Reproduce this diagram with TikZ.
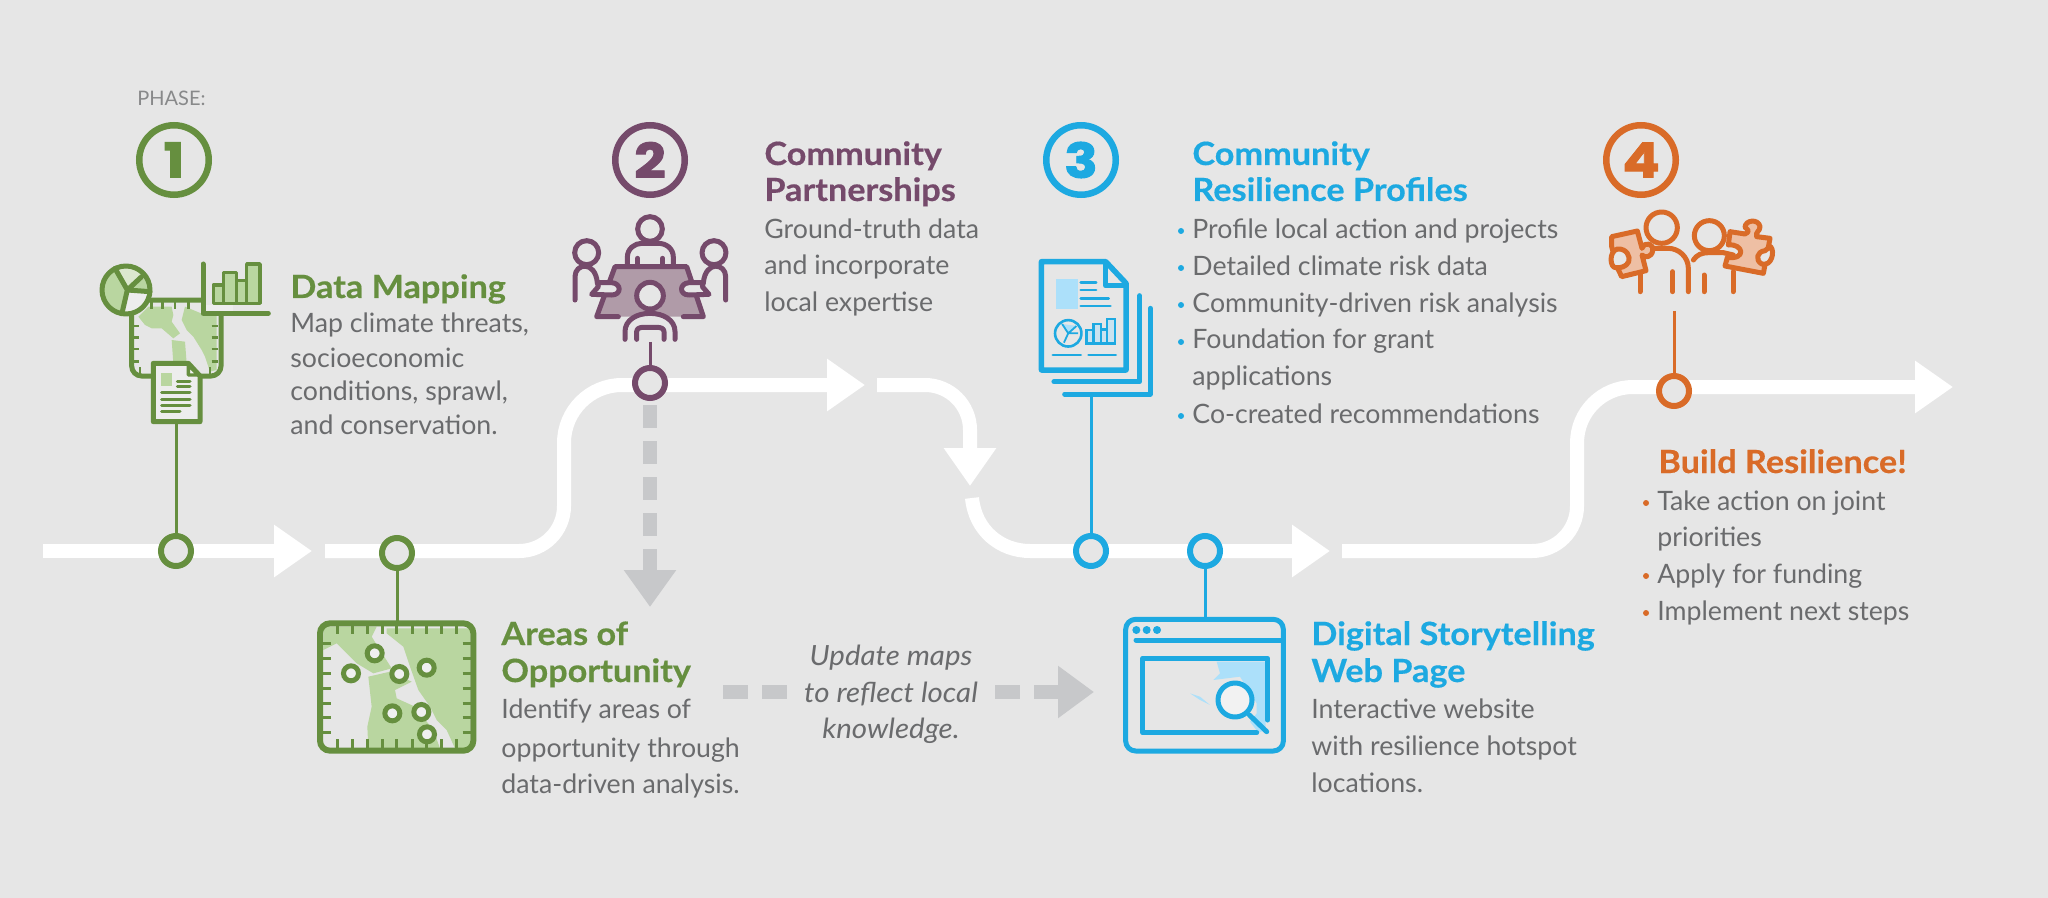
\documentclass[tikz,border=0pt]{standalone}
\usepackage{fontspec}
\setmainfont{Lato}
\newfontfamily\numfont{Poppins}[FakeStretch=1.15,BoldFeatures={FakeBold=2}]
\newfontfamily\headfont{Lato}[FakeStretch=1.07,BoldFeatures={FakeBold=0.4}]
\newfontfamily\italfont{Lato}[FakeStretch=1.06]
\usetikzlibrary{arrows.meta}
\definecolor{bgc}{HTML}{E6E6E6}
\definecolor{grn}{HTML}{668F3F}
\definecolor{grnl}{HTML}{B9D6A0}
\definecolor{grnp}{HTML}{DCE8CF}
\definecolor{pur}{HTML}{754A6B}
\definecolor{purl}{HTML}{B09BA8}
\definecolor{blu}{HTML}{1DA9E1}
\definecolor{blul}{HTML}{ACE0FA}
\definecolor{org}{HTML}{D96B28}
\definecolor{orgl}{HTML}{EEBFA4}
\definecolor{txt}{HTML}{6A6B6D}
\definecolor{gry}{HTML}{C7C8CA}
\tikzset{
  z/.style 2 args={shift={(#1,#2)},x=.166667pt,y=-.166667pt},
  body/.style={font=\fontsize{13.35}{15}\selectfont,text=txt,anchor=base west,inner sep=0pt},
  ital/.style={font=\fontsize{13.9}{15}\selectfont\italfont\itshape,text=txt,anchor=base,inner sep=0pt},
  head/.style={font=\fontsize{16}{18}\selectfont\headfont\bfseries,anchor=base west,inner sep=0pt},
  phasering/.style={circle,draw=#1,fill=none,line width=3.25pt,minimum size=34.75pt,inner sep=0pt,text=#1,font=\fontsize{24}{25}\selectfont\numfont\bfseries},
  stop/.style={circle,draw=#1,fill=bgc,line width=3pt,minimum size=15pt,inner sep=0pt},
  road/.style={draw=white,line width=7pt},
  roadtip/.style={road,-{Triangle[length=19pt,width=25pt]}},
  grayflow/.style={draw=gry,line width=7pt},
  stem/.style={line width=1.5pt},
  ico/.style={line width=2.5pt,line cap=round,line join=round},
}
\begin{document}
\begin{tikzpicture}[x=.5pt,y=-.5pt]
\useasboundingbox (0,0) rectangle (2048,898);
\fill[bgc] (0,0) rectangle (2048,898);

% road coordinates
\coordinate (r1a) at (43,551); \coordinate (r1b) at (312,551);
\coordinate (r2a) at (325,551); \coordinate (r2c1) at (564,551); \coordinate (r2c2) at (564,385); \coordinate (r2b) at (865,385);
\coordinate (r3a) at (877,385); \coordinate (r3c) at (970,385); \coordinate (r3b) at (970,486);
\coordinate (r4a) at (972,498); \coordinate (r4b) at (1330,551);
\coordinate (r5a) at (1342,551); \coordinate (r5c1) at (1577,551); \coordinate (r5c2) at (1577,387); \coordinate (r5b) at (1953,387);

\draw[roadtip] (r1a) -- (r1b);
\draw[roadtip,rounded corners=22.5pt] (r2a) -- (r2c1) [rounded corners=29pt] -- (r2c2) -- (r2b);
\draw[roadtip,rounded corners=22.5pt] (r3a) -- (r3c) -- (r3b);
\draw[roadtip] (r4a) .. controls (975,530) and (1000,551) .. (1030,551) -- (r4b);
\draw[roadtip,rounded corners=22.5pt] (r5a) -- (r5c1) [rounded corners=28pt] -- (r5c2) -- (r5b);

% gray flows
\coordinate (g1a) at (650,405); \coordinate (g1b) at (650,607);
\coordinate (g2a) at (723,692); \coordinate (g2b) at (787,692);
\coordinate (g3a) at (995,692); \coordinate (g3b) at (1094,692);
\draw[grayflow,dash pattern=on 11.5pt off 6.5pt,-{Triangle[length=18.5pt,width=25pt]}] (g1a) -- (g1b);
\draw[grayflow,dash pattern=on 12.5pt off 7pt] (g2a) -- (g2b);
\draw[grayflow,dash pattern=on 12.5pt off 7pt,-{Triangle[length=18pt,width=25pt]}] (g3a) -- (g3b);
\node[ital] (up1) at (891,665) {Update maps};
\node[ital] (up2) at (891,702) {to reflect local};
\node[ital] (up3) at (891,738) {knowledge.};

% PHASE 1
\node[font=\fontsize{10}{12}\selectfont,text=txt!80!white,anchor=base west,inner sep=0pt] (phase) at (137,106) {PHASE:};
\node[phasering=grn] (p1) at (174,160) {1};
\node[head,text=grn] (dmh) at (290,298) {Data Mapping};
\node[body] (dm1) at (290,333) {Map climate threats,};
\node[body] (dm2) at (290,367) {socioeconomic};
\node[body] (dm3) at (290,400) {conditions, sprawl,};
\node[body] (dm4) at (290,434) {and conservation.};
\coordinate (dmdoc) at (176,422);
\node[stop=grn] (s1) at (176,551) {};
\draw[grn,stem] (dmdoc) -- (s1);
\begin{scope}[z={90}{250}]
  \fill[bgc] (125,150) rectangle (393,378);
  \fill[grnl] (145,200) -- (175,170) -- (245,170) -- (250,195) -- (245,215) -- (270,250) -- (250,265) -- (215,235) -- (185,235) -- (165,225) -- cycle;
  \fill[grnl] (245,270) -- (285,275) -- (290,340) -- (250,340) -- cycle;
  \fill[grnl] (285,170) -- (345,195) -- (380,195) -- (380,360) -- (360,365) -- (345,320) -- (335,300) -- (310,260) -- (290,240) -- (275,210) -- cycle;
  \draw[grn,line width=2.5pt,rounded corners=5pt] (125,150) rectangle (393,378);
  \foreach \t in {185,218,255,295} \draw[grn,line width=1.2pt] (\t,155) -- (\t,178);
  \foreach \t in {228,262,297,335} {\draw[grn,line width=1.2pt] (130,\t) -- (148,\t); \draw[grn,line width=1.2pt] (365,\t) -- (385,\t);}
  \foreach \t in {150,360} \draw[grn,line width=1.2pt] (\t,352) -- (\t,372);
  % pie
  \fill[grnl] (108,120) circle[radius=12pt];
  \fill[grnp] (112,120) -- (75,55) arc[start angle=-120,end angle=-35,radius=75] -- cycle;
  \fill[bgc!70!white] (112,120) -- (185,125) arc[start angle=5,end angle=103,radius=70] -- cycle;
  \draw[grn,ico] (108,120) circle[radius=12pt];
  \draw[grn,ico] (75,55) -- (112,120) -- (97,185) (112,120) -- (180,125) (112,120) -- (155,80);
  % chart
  \fill[bgc] (341,30) rectangle (540,188);
  \fill[bgc!70!white] (345,165) rectangle (430,188);
  \draw[grn,ico] (339,42) -- (339,190) -- (535,190);
  \foreach \a/\b/\c in {370/400/105,400/440/68,440/470/92,470/510/42}
    \draw[grn,line width=1.7pt,fill=grnl,line join=round] (\a,160) rectangle (\b,\c);
  % doc
  \draw[grn,ico,fill=bgc!70!white] (190,340) -- (295,340) -- (330,378) -- (330,515) -- (190,515) -- cycle;
  \draw[grn,line width=1.7pt,fill=bgc!50!white,line join=round] (295,345) -- (295,375) -- (325,375) -- cycle;
  \fill[grnl] (212,368) rectangle (247,408);
  \foreach \a/\b/\c in {262/300/393,262/300/410,215/300/428,215/300/447,215/300/465,215/270/483}
    \draw[grn,line width=1.5pt,line cap=round] (\a,\c) -- (\b,\c);
\end{scope}

% Areas of Opportunity
\node[stop=grn] (s2) at (397,553) {};
\coordinate (aotop) at (397,622);
\draw[grn,stem] (s2) -- (aotop);
\node[head,text=grn] (aoh1) at (501,645) {Areas of};
\node[head,text=grn] (aoh2) at (501,682) {Opportunity};
\node[body] (ao1) at (501,718) {Identify areas of};
\node[body] (ao2) at (501,757) {opportunity through};
\node[body] (ao3) at (501,793) {data-driven analysis.};
\begin{scope}[z={290}{500}]
  \fill[bgc] (85,365) rectangle (555,755);
  \fill[grnl] (100,380) -- (260,380) -- (245,410) -- (270,450) -- (305,505) -- (250,520) -- (200,490) -- (140,430) -- (100,450) -- cycle;
  \fill[grnl] (235,530) -- (300,515) -- (365,545) -- (315,570) -- (320,595) -- (375,620) -- (430,690) -- (450,745) -- (235,745) -- (232,680) -- (245,620) -- cycle;
  \fill[grnl] (290,385) -- (540,385) -- (540,745) -- (495,745) -- (470,690) -- (440,660) -- (420,620) -- (385,570) -- (360,500) -- (340,440) -- (290,400) -- cycle;
  \foreach \t in {142,187,232,277,320,367,410,455,500} {\draw[grn,line width=1.5pt] (\t,375) -- (\t,403); \draw[grn,line width=1.5pt] (\t,718) -- (\t,745);}
  \foreach \t in {430,475,520,565,610,653,697} {\draw[grn,line width=1.5pt] (95,\t) -- (122,\t); \draw[grn,line width=1.5pt] (518,\t) -- (545,\t);}
  \draw[grn,line width=3pt,rounded corners=5pt] (90,370) rectangle (550,752);
  \foreach \a/\b in {254/460,183/520,328/522,410/503,307/640,394/636,411/703}
    \draw[grn,line width=2.5pt,fill=bgc!60!white] (\a,\b) circle[radius=3.75pt];
\end{scope}

% PHASE 2
\node[phasering=pur] (p2) at (650,160) {2};
\node[head,text=pur] (cph1) at (764,165) {Community};
\node[head,text=pur] (cph2) at (764,201) {Partnerships};
\node[body] (cp1) at (764,239) {Ground-truth data};
\node[body] (cp2) at (764,275) {and incorporate};
\node[body] (cp3) at (764,312) {local expertise};
\coordinate (cptop) at (650,342);
\node[stop=pur] (s3) at (650,383) {};
\draw[pur,stem] (cptop) -- (s3);
\begin{scope}[z={540}{100}]
  \fill[purl] (225,500) -- (440,500) -- (490,650) -- (170,650) -- cycle;
  % top person
  \draw[pur,ico] (330,387) circle[radius=37];
  \draw[pur,ico] (262,495) -- (262,472) .. controls (262,445) and (285,430) .. (305,430) -- (355,430) .. controls (378,430) and (400,445) .. (400,472) -- (400,495);
  \draw[pur,ico] (293,475) -- (293,495) (368,475) -- (368,495);
  % table outline
  \draw[pur,ico] (235,650) -- (170,650) -- (225,500) -- (440,500) -- (490,650) -- (430,650);
  % side persons
  \draw[pur,ico] (140,458) circle[radius=36];
  \draw[pur,ico] (522,458) circle[radius=36];
  \draw[pur,ico] (105,600) -- (105,530) .. controls (105,490) and (165,480) .. (172,548);
  \draw[pur,ico] (557,600) -- (557,530) .. controls (557,490) and (497,480) .. (490,548);
  \draw[pur,ico,fill=bgc] (172,548) -- (215,548) .. controls (245,550) and (245,585) .. (215,585) -- (155,583) -- (175,560) -- cycle;
  \draw[pur,ico,fill=bgc] (490,548) -- (447,548) .. controls (417,550) and (417,585) .. (447,585) -- (507,583) -- (487,560) -- cycle;
  % front person
  \draw[pur,ico,fill=bgc] (255,718) -- (255,695) .. controls (255,660) and (290,640) .. (330,640) .. controls (370,640) and (405,660) .. (405,695) -- (405,718);
  \draw[pur,ico,fill=bgc] (330,587) circle[radius=40];
  \draw[pur,ico] (290,718) -- (290,695) .. controls (290,685) and (300,682) .. (310,682) -- (350,682) .. controls (362,682) and (372,685) .. (372,695) -- (372,718);
\end{scope}

% PHASE 3
\node[phasering=blu] (p3) at (1081,160) {3};
\node[head,text=blu] (crh1) at (1192,165) {Community};
\node[head,text=blu] (crh2) at (1192,201) {Resilience Profiles};
\node[body] (cr1) at (1192,239) {Profile local action and projects};
\node[body] (cr2) at (1192,276) {Detailed climate risk data};
\node[body] (cr3) at (1192,313) {Community-driven risk analysis};
\node[body] (cr4) at (1192,349) {Foundation for grant};
\node[body] (cr5) at (1192,386) {applications};
\node[body] (cr6) at (1192,423) {Co-created recommendations};
\foreach \y in {231,268,305,342,416} \fill[blu] (1181,\y) circle[radius=1.5pt];
\coordinate (crtop) at (1091,394);
\node[stop=blu] (s4) at (1091,551) {};
\draw[blu,stem] (crtop) -- (s4);
\begin{scope}[shift={(1020,120)},x=.178571pt,y=-.166667pt]
  \draw[blu,line width=2.75pt,line join=round] (60,425) -- (240,425) -- (297,490) -- (297,750) -- (60,750) -- cycle;
  \draw[blu,line width=2.75pt,line join=round] (240,425) -- (240,497) -- (297,497);
  \fill[blul] (102,478) rectangle (163,567);
  \foreach \a/\b/\c in {170/213/487,170/213/510,170/248/535,170/253/558,92/170/705,192/268/705}
    \draw[blu,line width=1.4pt,line cap=round] (\a,\c) -- (\b,\c);
  \draw[blu,ico,line cap=round] (335,527) -- (335,785) -- (95,785);
  \draw[blu,ico,line cap=round] (365,565) -- (365,822) -- (125,822);
  \fill[blul] (135,640) -- (118,612) -- (160,618) -- cycle;
  \draw[blu,line width=1.3pt] (135,640) circle[radius=6.6pt];
  \draw[blu,line width=.9pt] (135,640) -- (118,612) (135,640) -- (123,668) (135,640) -- (163,640) (135,640) -- (158,618);
  \foreach \a/\b/\c in {186/206/630,206/226/612,226/244/628,244/266/597}
    \draw[blu,line width=1.2pt,fill=blul!50!bgc] (\a,670) rectangle (\b,\c);
\end{scope}

% Digital storytelling
\node[stop=blu] (s5) at (1205,551) {};
\coordinate (dstop) at (1205,617);
\draw[blu,stem] (s5) -- (dstop);
\node[head,text=blu] (dsh1) at (1311,645) {Digital Storytelling};
\node[head,text=blu] (dsh2) at (1311,682) {Web Page};
\node[body] (ds1) at (1311,718) {Interactive website};
\node[body] (ds2) at (1311,755) {with resilience hotspot};
\node[body] (ds3) at (1311,792) {locations.};
\begin{scope}[z={1100}{590}]
  \draw[blu,ico,rounded corners=5pt] (77,88) rectangle (550,483);
  \foreach \a in {109,140,171} \fill[blu] (\a,120) circle[radius=2pt];
  \draw[blu,ico] (108,150) -- (550,150);
  \fill[blul] (350,215) -- (360,250) -- (340,270) -- (420,260) -- (470,340) -- (470,370) -- (450,395) -- (475,428) -- (497,420) -- (497,215) -- cycle;
  \fill[blul] (270,310) -- (300,320) -- (330,345) -- (300,330) -- cycle;
  \draw[blu,ico] (470,428) -- (128,428) -- (128,205) -- (503,205) -- (503,390);
  \draw[blu,ico] (448,375) -- (500,425);
  \draw[blu,ico,fill=bgc!50!white] (405,330) circle[radius=8.5pt];
\end{scope}

% PHASE 4
\node[phasering=org] (p4) at (1641,160) {4};
\coordinate (brtop) at (1674,311);
\node[stop=org] (s6) at (1674,391) {};
\draw[org,stem] (brtop) -- (s6);
\node[head,text=org] (brh) at (1658,473) {Build Resilience!};
\node[body] (br1) at (1657,510) {Take action on joint};
\node[body] (br2) at (1657,546) {priorities};
\node[body] (br3) at (1657,583) {Apply for funding};
\node[body] (br4) at (1657,620) {Implement next steps};
\foreach \y in {503,576,613} \fill[org] (1646,\y) circle[radius=1.5pt];
\begin{scope}[z={1580}{120}]
  \draw[org,ico] (180,455) -- (180,515) (278,455) -- (278,515) (372,465) -- (372,515) (459,455) -- (459,515);
  \draw[org,ico] (325,515) -- (325,445) .. controls (325,410) and (295,385) .. (265,385) -- (215,385);
  \draw[org,ico] (340,420) .. controls (350,405) and (365,398) .. (385,398) -- (430,398) -- (460,405);
  \draw[org,ico] (245,323) circle[radius=47];
  \draw[org,ico] (388,347) circle[radius=45];
  % left puzzle
  \draw[org,ico,fill=orgl] (95,350) -- (172,333) -- (186,385) .. controls (195,362) and (222,372) .. (218,392) .. controls (215,412) and (195,415) .. (186,405) -- (198,452) -- (125,470) -- (113,445) -- (95,380) -- cycle;
  \draw[org,ico,fill=bgc] (112,387) .. controls (140,385) and (152,410) .. (146,425) .. controls (140,440) and (120,445) .. (108,443) .. controls (90,445) and (85,395) .. (112,387) -- cycle;
  % right puzzle
  \draw[org,ico,fill=orgl] (450,335) -- (495,342) .. controls (510,335) and (505,330) .. (495,322) .. controls (495,300) and (535,295) .. (540,320) .. controls (540,335) and (525,335) .. (530,350) -- (570,355) -- (550,460) -- (435,438) -- (442,412) .. controls (500,420) and (490,370) .. (445,375) -- cycle;
  \draw[org,ico,fill=bgc] (555,392) .. controls (530,395) and (525,420) .. (545,432) .. controls (575,440) and (585,395) .. (572,380) .. controls (565,382) and (560,390) .. (555,392) -- cycle;
\end{scope}
\end{tikzpicture}
\end{document}
